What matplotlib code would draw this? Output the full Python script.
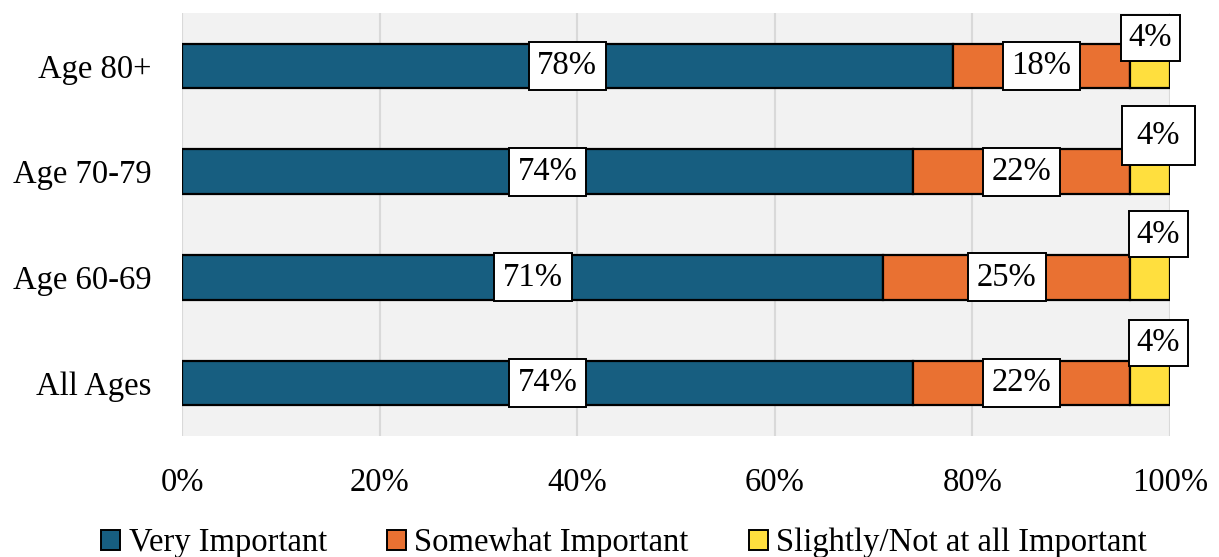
import matplotlib
matplotlib.use("Agg")
import matplotlib.pyplot as plt
from matplotlib.patches import Patch

categories = ["All Ages", "Age 60-69", "Age 70-79", "Age 80+"]
very = [74, 71, 74, 78]
somewhat = [22, 25, 22, 18]
slight = [4, 4, 4, 4]
series_names = ["Very Important", "Somewhat Important", "Slightly/Not at all Important"]
xticks = [0, 20, 40, 60, 80, 100]
xtick_labels = ["0%", "20%", "40%", "60%", "80%", "100%"]

colors = ["#175e80", "#e97132", "#ffdf3e"]
FONT = "Liberation Serif"
FS = 23.5
plt.rcParams["font.family"] = [FONT, "DejaVu Serif"]

fig = plt.figure(figsize=(12.19, 5.57), dpi=100)
ax = fig.add_axes([182/1219, 1-436/557, (1170-182)/1219, (436-13)/557])
ax.set_facecolor("#f2f2f2")

ypos = list(range(len(categories)))
h = 0.42
ax.barh(ypos, very, height=h, color=colors[0], edgecolor="black", linewidth=1.6, zorder=3)
ax.barh(ypos, somewhat, left=very, height=h, color=colors[1], edgecolor="black", linewidth=1.6, zorder=3)
left3 = [a + b for a, b in zip(very, somewhat)]
ax.barh(ypos, slight, left=left3, height=h, color=colors[2], edgecolor="black", linewidth=1.6, zorder=3)

box = dict(boxstyle="square,pad=0.27", facecolor="white", edgecolor="black", linewidth=1.4)
for i in ypos:
    ax.text(very[i] / 2, i, f"{very[i]}%", ha="center", va="center", fontsize=FS,
            bbox=box, zorder=5)
    ax.text(very[i] + somewhat[i] / 2, i, f"{somewhat[i]}%", ha="center", va="center",
            fontsize=FS, bbox=box, zorder=5)

# small-segment labels sit above the bar
dx = [6, 6, 6, 0]
dy = [29, 31, 26, 20]
pads = [0.24, 0.24, 0.45, 0.24]
for i in ypos:
    bb = dict(boxstyle=f"square,pad={pads[i]}", facecolor="white", edgecolor="black", linewidth=1.4)
    ax.annotate(f"{slight[i]}%", xy=(left3[i] + slight[i] / 2, i), xytext=(dx[i], dy[i]),
                textcoords="offset points", ha="center", va="center", fontsize=FS,
                bbox=bb, zorder=6)

ax.set_xlim(0, 100)
ax.set_ylim(-0.5, len(categories) - 0.5)
ax.set_xticks(xticks)
ax.set_xticklabels(xtick_labels, fontsize=FS)
ax.set_yticks(ypos)
ax.set_yticklabels(categories, fontsize=FS)
ax.tick_params(axis="both", length=0)
ax.tick_params(axis="x", pad=23)
ax.tick_params(axis="y", pad=22)
ax.grid(axis="x", color="#d9d9d9", linewidth=1.5, zorder=0)
for s in ax.spines.values():
    s.set_visible(False)

handles = [Patch(facecolor=c, edgecolor="black", linewidth=1.4) for c in colors]
fig.legend(handles, series_names, loc="lower center", bbox_to_anchor=(0.512, -0.055), ncol=3,
           frameon=False, fontsize=FS, handlelength=0.58, handleheight=0.58,
           handletextpad=0.25, columnspacing=1.85)

fig.savefig("out.png", dpi=100, facecolor="white")
